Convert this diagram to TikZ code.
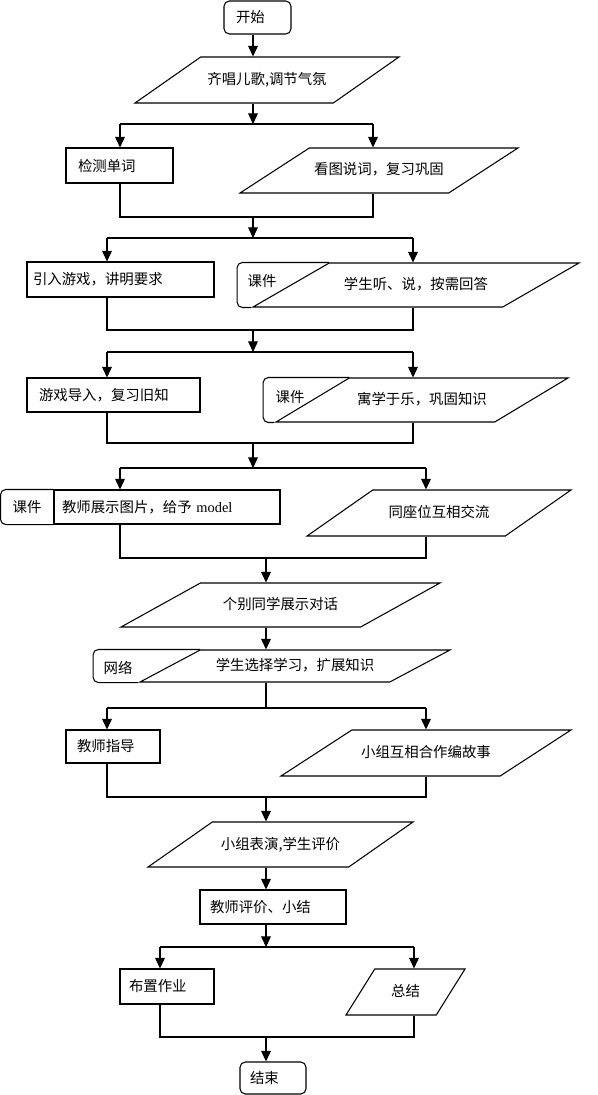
\documentclass[tikz,border=0pt]{standalone}
\usepackage{fontspec}
\setmainfont{Liberation Serif}
\newfontfamily\cjk{Noto Sans CJK SC}
\usetikzlibrary{shapes,arrows.meta,positioning}

\begin{document}
\begin{tikzpicture}[x=0.02cm, y=-0.02cm, line width=0.6pt, font=\cjk\fontsize{8.2}{10}\selectfont]
        \tikzstyle{box} = [rectangle, draw, align=left, inner ysep=0pt]
        \tikzstyle{term} = [box, rounded corners=3pt]
        \tikzstyle{line} = [draw, -{Triangle[width=5.5pt,length=6pt]}]
        \tikzset{io/.style 2 args={trapezium, draw, trapezium left angle=#1, trapezium right angle=#2, trapezium stretches body, text height=0.22cm, text depth=0.04cm, inner xsep=0pt}}
        \useasboundingbox (0,0) rectangle (598,1095);

        \node [term, text width=0.86cm, inner xsep=0.24cm, minimum height=0.66cm] (start) at (257.5,17.5) {开始};
        \node [io={35}{145}, minimum width=5.28cm, inner ysep=0.33cm] (song) at (267,80) {齐唱儿歌,调节气氛};

        % first pair
        \node [box, text width=1.66cm, inner xsep=0.24cm, minimum height=0.7cm] (check) at (119.5,165.5) {检测单词};
        \node [io={33}{147}, minimum width=5.56cm, inner ysep=0.32cm] (picture) at (379,170.5) {看图说词，复习巩固};

        % second pair
        \node [box, text width=3.5cm, inner xsep=0.12cm, minimum height=0.7cm] (intro) at (120.5,279.5) {引入游戏，讲明要求};
        \node [io={30}{150}, minimum width=6.52cm, inner ysep=0.31cm] (kj1) at (416,285) {学生听、说，按需回答};
        \draw [rounded corners=3pt] (kj1.top left corner) -- ++(-92,0) |- (kj1.bottom left corner);
        \node (kj1tag) at (262,281) {课件};

        % third pair
        \node [box, text width=2.98cm, inner xsep=0.24cm, minimum height=0.68cm] (game) at (113.5,395) {游戏导入，复习旧知};
        \node [io={31}{149}, minimum width=5.84cm, inner ysep=0.31cm] (kj2) at (422,400) {寓学于乐，巩固知识};
        \draw [rounded corners=3pt] (kj2.top left corner) -- ++(-86,0) |- (kj2.bottom left corner);
        \node (kj2tag) at (290,397) {课件};

        % fourth pair
        \node [box, text width=4.2cm, inner xsep=0.16cm, minimum height=0.68cm] (show) at (167,507) {教师展示图片，给予 {\rmfamily model}};
        \draw [rounded corners=3pt] (show.north west) -- ++(-53,0) |- (show.south west);
        \node (showtag) at (27,507) {课件};
        \node [io={35}{145}, minimum width=5.28cm, inner ysep=0.33cm] (pair) at (439,513) {同座位互相交流};

        \node [io={29}{151}, minimum width=6.38cm, inner ysep=0.31cm] (talk) at (280.5,605) {个别同学展示对话};
        \node [io={28}{152}, minimum width=6.2cm, inner ysep=0.19cm] (kj3) at (295,666) {学生选择学习，扩展知识};
        \draw [rounded corners=3pt] (kj3.top left corner) -- ++(-107,0) |- (kj3.bottom left corner);
        \node (kj3tag) at (118,668) {网络};

        % fifth pair
        \node [box, text width=1.44cm, inner xsep=0.22cm, minimum height=0.66cm] (guide) at (113,746.5) {教师指导};
        \node [io={33}{147}, minimum width=5.8cm, inner ysep=0.33cm] (story) at (426,753) {小组互相合作编故事};

        \node [io={35}{145}, minimum width=5.3cm, inner ysep=0.32cm] (act) at (280.5,844.5) {小组表演,学生评价};
        \node [box, text width=2.52cm, inner xsep=0.2cm, minimum height=0.68cm] (review) at (273,907) {教师评价、小结};

        % last pair
        \node [box, text width=1.52cm, inner xsep=0.18cm, minimum height=0.7cm] (homework) at (167,986.5) {布置作业};
        \node [io={58}{122}, minimum width=2.38cm, inner ysep=0.33cm] (summary) at (405.5,992) {总结};
        \node [term, text width=0.92cm, inner xsep=0.2cm, minimum height=0.64cm] (finish) at (273,1078) {结束};

        % split and merge points
        \coordinate (s1) at (253,124);
        \coordinate (l1) at (120,124);
        \coordinate (r1) at (373,124);
        \coordinate (m1) at (253,217);
        \coordinate (s2) at (253,238);
        \coordinate (l2) at (107,238);
        \coordinate (r2) at (413,238);
        \coordinate (m2) at (253,330);
        \coordinate (s3) at (253,352);
        \coordinate (l3) at (107,352);
        \coordinate (r3) at (413,352);
        \coordinate (m3) at (253,443);
        \coordinate (s4) at (253,468);
        \coordinate (l4) at (120,468);
        \coordinate (r4) at (426,468);
        \coordinate (m4) at (266,558);
        \coordinate (s5) at (266,708);
        \coordinate (l5) at (107,708);
        \coordinate (r5) at (426,708);
        \coordinate (m5) at (266,797);
        \coordinate (s6) at (266,947);
        \coordinate (l6) at (160,947);
        \coordinate (r6) at (414,947);
        \coordinate (m6) at (266,1037);

        \path [line] (start.south -| s1) -- (s1 |- song.north);
        \path [line] (song.south -| s1) -- (s1);

        \draw (l1) -- (r1);
        \path [line] (l1) -- (l1 |- check.north);
        \path [line] (r1) -- (r1 |- picture.north);
        \draw (check.south -| l1) -- (l1 |- m1) -- (r1 |- m1) -- (picture.south -| r1);
        \path [line] (m1) -- (s2);

        \draw (l2) -- (r2);
        \path [line] (l2) -- (l2 |- intro.north);
        \path [line] (r2) -- (r2 |- kj1.north);
        \draw (intro.south -| l2) -- (l2 |- m2) -- (r2 |- m2) -- (kj1.south -| r2);
        \path [line] (m2) -- (s3);

        \draw (l3) -- (r3);
        \path [line] (l3) -- (l3 |- game.north);
        \path [line] (r3) -- (r3 |- kj2.north);
        \draw (game.south -| l3) -- (l3 |- m3) -- (r3 |- m3) -- (kj2.south -| r3);
        \path [line] (m3) -- (s4);

        \draw (l4) -- (r4);
        \path [line] (l4) -- (l4 |- show.north);
        \path [line] (r4) -- (r4 |- pair.north);
        \draw (show.south -| l4) -- (l4 |- m4) -- (r4 |- m4) -- (pair.south -| r4);
        \path [line] (m4) -- (m4 |- talk.north);
        \path [line] (talk.south -| m4) -- (m4 |- kj3.north);
        \draw (kj3.south -| s5) -- (s5);

        \draw (l5) -- (r5);
        \path [line] (l5) -- (l5 |- guide.north);
        \path [line] (r5) -- (r5 |- story.north);
        \draw (guide.south -| l5) -- (l5 |- m5) -- (r5 |- m5) -- (story.south -| r5);
        \path [line] (m5) -- (m5 |- act.north);
        \path [line] (act.south -| m5) -- (m5 |- review.north);
        \path [line] (review.south -| s6) -- (s6);

        \draw (l6) -- (r6);
        \path [line] (l6) -- (l6 |- homework.north);
        \path [line] (r6) -- (r6 |- summary.north);
        \draw (homework.south -| l6) -- (l6 |- m6) -- (r6 |- m6) -- (summary.south -| r6);
        \path [line] (m6) -- (m6 |- finish.north);
    \end{tikzpicture}
\end{document}
